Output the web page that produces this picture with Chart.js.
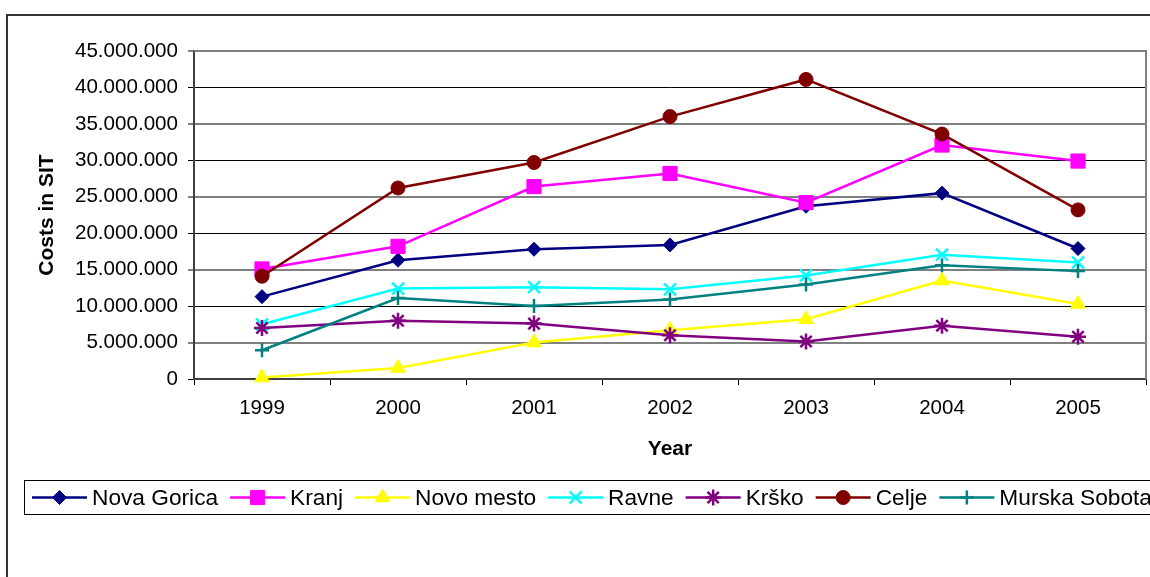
<!DOCTYPE html>
<html>
<head>
<meta charset="utf-8">
<script src="https://cdn.jsdelivr.net/npm/chart.js@4/dist/chart.umd.min.js"></script>
<style>
  html, body { margin: 0; padding: 0; background: #fff; }
  #wrap { width: 1150px; height: 577px; position: relative; }
</style>
</head>
<body>
<div id="wrap"><canvas id="c" width="1150" height="577"></canvas></div>
<script>
// Annual costs per regional centre, in SIT
const years = ['1999', '2000', '2001', '2002', '2003', '2004', '2005'];
const novaGorica   = [11300000, 16300000, 17800000, 18400000, 23700000, 25500000, 17900000];
const kranj        = [15100000, 18200000, 26400000, 28200000, 24200000, 32100000, 29900000];
const novoMesto    = [  200000,  1500000,  5000000,  6700000,  8200000, 13500000, 10300000];
const ravne        = [ 7500000, 12400000, 12600000, 12300000, 14200000, 17050000, 16000000];
const krsko        = [ 7000000,  8000000,  7600000,  6000000,  5150000,  7300000,  5800000];
const celje        = [14100000, 26200000, 29700000, 36000000, 41100000, 33600000, 23200000];
const murskaSobota = [ 3950000, 11100000, 10000000, 10900000, 12950000, 15600000, 14800000];

const seriesNames = ['Nova Gorica', 'Kranj', 'Novo mesto', 'Ravne', 'Krško', 'Celje', 'Murska Sobota'];
const seriesData = [novaGorica, kranj, novoMesto, ravne, krsko, celje, murskaSobota];
const seriesColors = ['#000080', '#FF00FF', '#FFFF00', '#00FFFF', '#800080', '#800000', '#008080'];
const seriesMarkers = ['rectRot', 'rect', 'triangle', 'crossRot', 'star', 'circle', 'cross'];
const markerRadius = [7, 10, 8.5, 8.5, 8, 7, 7];

const FONT = "'Liberation Sans', Arial, sans-serif";

function dotted(v) {
  return String(Math.round(v)).replace(/\B(?=(\d{3})+(?!\d))/g, '.');
}

const datasets = seriesNames.map((name, i) => {
  const open = ['crossRot', 'star', 'cross'].includes(seriesMarkers[i]);
  return {
    label: name,
    data: seriesData[i],
    borderColor: seriesColors[i],
    backgroundColor: seriesColors[i],
    borderWidth: 2.5,
    pointStyle: seriesMarkers[i],
    pointRadius: markerRadius[i],
    pointHoverRadius: markerRadius[i],
    pointBackgroundColor: seriesColors[i],
    pointBorderColor: seriesColors[i],
    pointBorderWidth: open ? 2.5 : 1,
    tension: 0,
    clip: false,
    order: seriesNames.length - i
  };
});

// Frame around the whole chart and the plot area
const framePlugin = {
  id: 'frame',
  beforeDraw(chart) {
    const ctx = chart.ctx;
    ctx.save();
    ctx.fillStyle = '#fff';
    ctx.fillRect(0, 0, chart.width, chart.height);
    ctx.strokeStyle = '#333';
    ctx.lineWidth = 2;
    ctx.strokeRect(7, 15, 1300, 700);
    ctx.restore();
  },
  afterDatasetsDraw(chart) {
    const a = chart.chartArea;
    const ctx = chart.ctx;
    ctx.save();
    ctx.strokeStyle = '#808080';
    ctx.lineWidth = 2;
    ctx.beginPath();
    ctx.moveTo(a.left, a.top);
    ctx.lineTo(a.right, a.top);
    ctx.lineTo(a.right, a.bottom);
    ctx.stroke();
    ctx.restore();
  }
};

// Single-row legend inside a bordered box
const legendPlugin = {
  id: 'rowLegend',
  afterDraw(chart) {
    const ctx = chart.ctx;
    const yMid = 497.5;
    ctx.save();
    ctx.strokeStyle = '#000';
    ctx.lineWidth = 1;
    ctx.strokeRect(24.5, 480.5, 1300, 34);
    ctx.font = '22.7px ' + FONT;
    ctx.textBaseline = 'middle';
    ctx.textAlign = 'left';
    let x = 32;
    chart.data.datasets.forEach(ds => {
      ctx.strokeStyle = ds.borderColor;
      ctx.lineWidth = 2.5;
      ctx.beginPath();
      ctx.moveTo(x, yMid);
      ctx.lineTo(x + 55, yMid);
      ctx.stroke();
      ctx.fillStyle = ds.pointBackgroundColor;
      ctx.strokeStyle = ds.pointBorderColor;
      ctx.lineWidth = ds.pointBorderWidth;
      Chart.helpers.drawPoint(ctx, {
        pointStyle: ds.pointStyle,
        radius: ds.pointRadius,
        rotation: 0,
        borderWidth: ds.pointBorderWidth
      }, x + 27.5, yMid);
      ctx.fillStyle = '#000';
      ctx.fillText(ds.label, x + 60, yMid + 1);
      x += 60 + ctx.measureText(ds.label).width + 12;
    });
    ctx.restore();
  }
};

new Chart(document.getElementById('c'), {
  type: 'line',
  data: { labels: years, datasets },
  plugins: [framePlugin, legendPlugin],
  options: {
    responsive: false,
    devicePixelRatio: 1,
    animation: false,
    events: [],
    layout: { autoPadding: false, padding: { left: 0, top: 51, right: 4, bottom: 98 } },
    plugins: {
      legend: { display: false },
      tooltip: { enabled: false },
      title: { display: false }
    },
    scales: {
      x: {
        offset: true,
        afterFit(scale) {
          scale.height = 100;
          scale.paddingLeft = 0;
          scale.paddingRight = 0;
        },
        grid: {
          offset: true,
          drawOnChartArea: false,
          drawTicks: true,
          tickLength: 6,
          tickColor: '#000',
          tickWidth: 1
        },
        border: { color: '#404040', width: 2 },
        ticks: {
          color: '#000',
          font: { family: FONT, size: 20.5 },
          padding: 11,
          maxRotation: 0
        },
        title: {
          display: true,
          text: 'Year',
          color: '#000',
          font: { family: FONT, size: 21, weight: 'bold' },
          padding: { top: 0, bottom: 17 }
        }
      },
      y: {
        min: 0,
        max: 45000000,
        afterFit(scale) { scale.width = 194; },
        grid: {
          color: c => (c.tick && c.tick.value % 10000000 === 0) ? '#000' : '#808080',
          lineWidth: c => (c.tick && c.tick.value % 10000000 === 0) ? 1 : 2,
          drawTicks: true,
          tickLength: 6,
          tickColor: '#000',
          tickWidth: 1
        },
        border: { color: '#404040', width: 2 },
        ticks: {
          stepSize: 5000000,
          color: '#000',
          font: { family: FONT, size: 20.6 },
          padding: 10,
          callback: v => dotted(v)
        },
        title: {
          display: true,
          text: 'Costs in SIT',
          color: '#000',
          font: { family: FONT, size: 21, weight: 'bold' },
          padding: { top: 35, bottom: 0 }
        }
      }
    }
  }
});
</script>
</body>
</html>
